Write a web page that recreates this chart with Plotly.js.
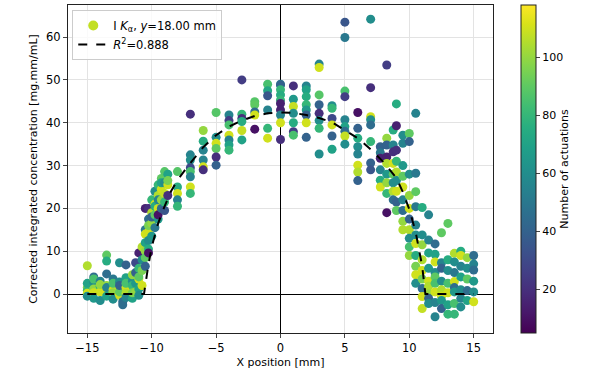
<!DOCTYPE html>
<html>
<head>
<meta charset="utf-8">
<script src="https://cdn.plot.ly/plotly-3.0.1.min.js"></script>
<style>
  body { margin: 0; background: #fff; }
  #myDiv { width: 598px; height: 373px; }
</style>
</head>
<body>
<div id="myDiv"></div>
<script>
// x positions of the measurement columns [mm]
let colX = [-15, -14.5, -14, -13.5, -13, -12.5, -12.25, -12, -11.5, -11.25, -11, -10.75,
    -10.5, -10.25, -10, -9.75, -9.5, -9.25, -9, -8.75, -8, -7, -6, -5, -4, -3, -2, -1,
    0, 1, 2, 3, 4, 5, 6, 7, 7.75, 8.25, 8.75, 9, 9.5, 10, 10.5, 11, 11.5, 12, 12.5,
    13, 13.5, 14, 14.5, 15];

// corrected integrated concentration per column [mg.mm/mL]
let colConc = [
    [6.6, 1.5, 0.8, 2.5, 0.2, -0.5],
    [4.0, 2.8, 1.2, 0.3, -1.0, 3.5],
    [3.0, 1.8, 0.5, -1.5, 2.2],
    [9.1, 7.7, 4.7, 2.0, 0.8, -0.5, 1.5],
    [3.5, 1.0, 0.3, -1.2, 2.5],
    [7.3, 2.8, 1.0, -0.3, 0.5, 2.0],
    [-1.8, -2.5],
    [6.8, 3.8, 1.5, 0.2, -0.8, 2.5],
    [3.0, 1.0, 4.5, 2.0, -1.0, 0.3],
    [7.3, 5.0, 2.5, 0.5],
    [9.6, 6.0, 3.5, 1.2, -0.3, 4.0],
    [11.0, 8.0, 5.5, 2.0],
    [20, 15, 12, 10, 8.5, 14, 6.5],
    [20, 17.5, 14.5, 12.5, 10.5, 9.6, 16],
    [22, 19, 16.5, 13.5, 18],
    [24, 21, 18.5, 15.5, 20.5],
    [25.5, 23, 20, 17.5, 18.5, 22],
    [27, 24.5, 22, 20, 26],
    [28.6, 26, 23.5, 21.5, 19.5],
    [28, 25.5, 23, 26.5],
    [28.6, 25, 23.5, 22, 20.5],
    [42, 32.5, 31.3, 29.5, 28.6, 27.4, 25, 23.5],
    [38.2, 35.7, 33.6, 31.3, 29.7, 29],
    [42.4, 36.6, 35.2, 34, 32, 30.1],
    [41.8, 40.5, 39.5, 37.1, 36, 34.8, 33.6],
    [50, 42, 41, 40.3, 38.2, 36],
    [44.9, 44.2, 42.5, 41.8, 38.5],
    [49, 47.5, 46.3, 43, 38.7, 36.4],
    [49, 48.8, 47.7, 46.5, 45.3, 44.5, 43, 41.8, 40, 36.1],
    [48.6, 45.5, 43.8, 42.2, 40, 37.9, 37.1],
    [48.6, 47.7, 46.1, 44.2, 43, 41.8, 40, 36.6],
    [53.7, 52.9, 46.5, 44.2, 42.2, 40.5, 38.7, 32.7],
    [44, 43.4, 41, 39.5, 36.9, 33.8],
    [63.5, 59.9, 47.4, 46.1, 40.7, 39.1, 38, 36.9, 35],
    [42.4, 38.7, 36.4, 34.4, 32.7, 30.1, 28.5, 26.5],
    [64.2, 48.2, 41.4, 40.7, 39.5, 35.6, 30.6, 29],
    [34.4, 33, 31.7, 29, 26.6, 25],
    [53.5, 36.4, 34.8, 32, 30.5, 28, 26, 23.5, 19],
    [38.3, 34.8, 33.2, 30.5, 28, 26, 24, 22],
    [44.4, 39.3, 33.6, 31, 28.5, 26.5, 24, 21.5, 19.5],
    [37.1, 35.2, 30, 27.5, 25, 22, 19.5, 17, 15],
    [37.5, 35.6, 28, 23, 20, 17.5, 15, 13, 11, 9],
    [42.2, 28.2, 23.9, 20.4, 16.1, 13.8, 11.8, 9, 6.5, 4.5, 2.5],
    [20.2, 13.8, 11.5, 8, 5.5, 3.5, 1.3, -0.6, -3.4],
    [18.5, 12.6, 9.6, 6, 3, 1.8, 0, -1, -2.2],
    [11.7, 9.3, 7.5, 5, 4, 2.5, 0.5, -2, -5.3],
    [14.3, 7.3, 6, 3, 1, -0.5, -1.5, -3.4],
    [16.5, 8, 5.5, 2.5, 0.3, -2.5, -4.7],
    [9.5, 7.5, 5, 2.9, 1.5, 0.5, -2.2, -4.7],
    [10, 9, 6.5, 4, 1, -1, -3],
    [8.5, 6, 3.5, 0.8, -1.5],
    [9, 7, 5.6, 3, 0.5, -1.8]
];

// number of actuations per point (colour)
let colAct = [
    [105, 95, 80, 70, 110, 60],
    [45, 60, 100, 110, 65, 85],
    [55, 75, 110, 60, 100],
    [90, 75, 45, 100, 110, 70, 55],
    [50, 110, 100, 60, 85],
    [60, 60, 105, 110, 90, 40],
    [45, 45],
    [40, 70, 110, 105, 55, 85],
    [60, 110, 100, 80, 70, 95],
    [30, 40, 65, 100],
    [15, 80, 110, 70, 60, 90],
    [105, 60, 95, 110],
    [15, 50, 70, 100, 90, 110, 40],
    [20, 45, 110, 60, 75, 10, 95],
    [80, 105, 100, 65, 40],
    [60, 110, 90, 50, 75],
    [80, 105, 110, 65, 10, 55],
    [90, 110, 100, 45, 70],
    [88, 60, 108, 80, 35],
    [70, 110, 20, 95],
    [88, 75, 110, 55, 80],
    [20, 55, 60, 30, 85, 55, 110, 80],
    [100, 75, 55, 55, 110, 20],
    [88, 60, 110, 90, 20, 40],
    [55, 25, 85, 110, 55, 70, 80],
    [25, 80, 20, 75, 108, 70],
    [88, 90, 45, 110, 10],
    [85, 72, 35, 55, 80, 110],
    [50, 40, 80, 75, 80, 15, 15, 55, 110, 20],
    [20, 65, 108, 60, 75, 25, 85],
    [55, 70, 75, 80, 65, 40, 110, 40],
    [55, 110, 88, 40, 20, 60, 80, 60],
    [60, 80, 30, 110, 40, 70],
    [35, 50, 85, 25, 55, 70, 45, 108, 60],
    [10, 40, 75, 60, 55, 110, 105, 40],
    [60, 20, 110, 60, 45, 80, 40, 35],
    [40, 50, 15, 55, 75, 110],
    [25, 100, 40, 15, 105, 65, 100, 80, 10],
    [75, 55, 20, 110, 90, 60, 105, 45],
    [75, 15, 20, 80, 105, 60, 110, 40, 90],
    [60, 55, 65, 90, 110, 55, 45, 100, 105],
    [90, 40, 60, 100, 110, 40, 105, 60, 85, 100],
    [55, 50, 90, 50, 55, 60, 110, 75, 95, 110, 60],
    [75, 60, 100, 105, 110, 95, 45, 110, 108],
    [55, 55, 70, 65, 110, 105, 100, 40, 60],
    [45, 70, 110, 60, 90, 85, 110, 55, 55],
    [90, 55, 40, 60, 105, 110, 65, 40],
    [90, 75, 60, 85, 110, 70, 80],
    [105, 60, 50, 110, 45, 65, 85, 80],
    [75, 110, 55, 70, 60, 55, 60],
    [100, 60, 90, 45, 70],
    [45, 55, 45, 65, 60, 110]
];

// fitted profile
let fitX = [-15, -10.6, -10.3, -10, -9.75, -9.5, -9, -8.5, -8, -7, -6, -5, -4, -3, -2, -1,
    0, 1, 2, 3, 4, 5, 6, 7, 8, 9, 9.5, 10, 10.5, 11, 11.25, 15];
let fitY = [0, 0, 6, 11, 13.8, 16.5, 20.5, 24, 26.6, 30.6, 34.3, 37.1, 39.1, 40.5, 41.6, 42.2,
    42.4, 42.3, 41.8, 41.1, 40.1, 38.3, 36.4, 33.8, 30.8, 27.1, 23.8, 19.8, 14.4, 6.5, 0, 0];

let x = [], y = [], c = [];
for (let i = 0; i < colX.length; i++) {
    for (let j = 0; j < colConc[i].length; j++) {
        x.push(colX[i]);
        y.push(colConc[i][j]);
        c.push(colAct[i][j]);
    }
}

let font = {family: 'DejaVu Sans, sans-serif', size: 11, color: '#000'};

let points = {
    type: 'scatter', mode: 'markers', x: x, y: y,
    showlegend: false,
    marker: {
        size: 9, color: c, colorscale: 'Viridis', cmin: 5, cmax: 118,
        line: {width: 0},
        colorbar: {
            x: 1.066, xanchor: 'left', xpad: 0, ypad: 0, len: 1, y: 0.5,
            thickness: 15, outlinecolor: '#222', outlinewidth: 1,
            tickvals: [20, 40, 60, 80, 100], ticks: 'outside', ticklen: 4,
            tickfont: font,
            title: {text: 'Number of actuations', side: 'right', font: font}
        }
    }
};

// legend entry for the points
let pointsKey = {
    type: 'scatter', mode: 'markers', x: [null], y: [null],
    name: 'I <i>K</i><sub>α</sub>, <i>y</i>=18.00 mm',
    marker: {size: 10, color: '#c2df23'}
};

let fit = {
    type: 'scatter', mode: 'lines', x: fitX, y: fitY,
    name: '<i>R</i><sup>2</sup>=0.888',
    line: {color: '#000', width: 2, dash: 'dash'}
};

let layout = {
    width: 598, height: 373,
    margin: {l: 68, r: 105, t: 5, b: 40},
    paper_bgcolor: '#fff', plot_bgcolor: '#fff',
    font: font,
    showlegend: true,
    legend: {
        x: 0.01, y: 0.985, xanchor: 'left', yanchor: 'top',
        bgcolor: 'rgba(255,255,255,0.8)', bordercolor: '#ccc', borderwidth: 1,
        font: {family: 'DejaVu Sans, sans-serif', size: 11.5}
    },
    xaxis: {
        range: [-16.5, 16.5], tickvals: [-15, -10, -5, 0, 5, 10, 15],
        ticks: 'outside', ticklen: 4, showline: true, mirror: true, linecolor: '#222',
        gridcolor: '#e3e3e3', zeroline: true, zerolinecolor: '#000', zerolinewidth: 1.2,
        tickfont: {family: 'DejaVu Sans, sans-serif', size: 11.5, color: '#000'},
        title: {text: 'X position [mm]', font: font, standoff: 4}
    },
    yaxis: {
        range: [-9.1, 67.5], tickvals: [0, 10, 20, 30, 40, 50, 60],
        ticks: 'outside', ticklen: 4, showline: true, mirror: true, linecolor: '#222',
        gridcolor: '#e3e3e3', zeroline: true, zerolinecolor: '#000', zerolinewidth: 1.2,
        tickfont: {family: 'DejaVu Sans, sans-serif', size: 11.5, color: '#000'},
        title: {text: 'Corrected integrated concentration [mg.mm/mL]', font: font, standoff: 6}
    }
};

Plotly.newPlot('myDiv', [points, pointsKey, fit], layout, {displayModeBar: false});
</script>
</body>
</html>
